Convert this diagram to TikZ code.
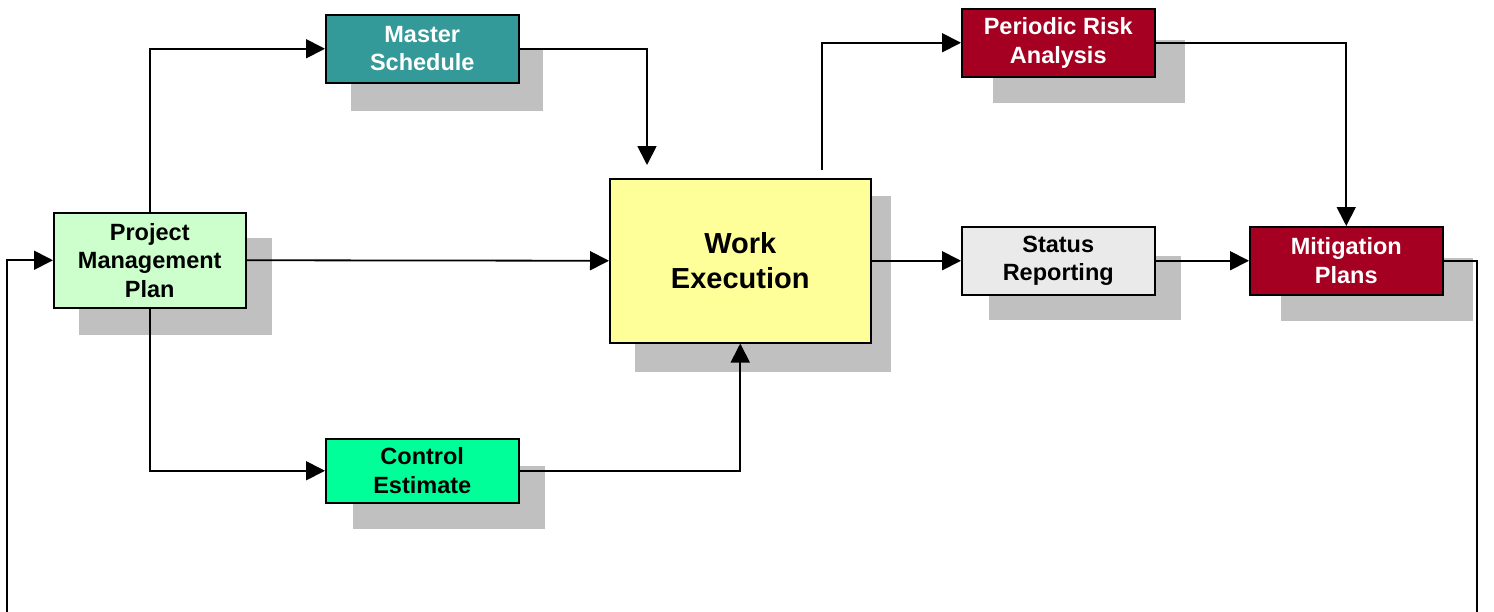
\documentclass[tikz,border=0pt]{standalone}
\usepackage{fontspec}
\setmainfont{Liberation Sans}
\usetikzlibrary{arrows.meta}
\definecolor{cteal}{HTML}{339999}
\definecolor{cred}{HTML}{A50021}
\definecolor{cpale}{HTML}{CCFFCC}
\definecolor{cyel}{HTML}{FFFF99}
\definecolor{cgray}{HTML}{EAEAEA}
\definecolor{cgreen}{HTML}{00FF99}
\definecolor{cshadow}{HTML}{C0C0C0}
\begin{document}
\begin{tikzpicture}[x=1pt,y=-1pt,
  box/.style={draw=black, line width=1.5pt, inner sep=0pt, align=center, anchor=north west,
    font=\bfseries\fontsize{23.5}{28.5}\selectfont},
  bigbox/.style={box, font=\bfseries\fontsize{29}{35}\selectfont},
  shadow/.style={fill=cshadow, draw=none},
  arr/.style={draw=black, line width=1.8pt, -{Triangle[length=19pt,width=19pt]}}
]
\useasboundingbox (0,0) rectangle (1494,611);
\clip (0,0) rectangle (1494,611);
% shadows
\fill[shadow] (351,48) rectangle (543,111);
\fill[shadow] (79,238) rectangle (272,335);
\fill[shadow] (635,196) rectangle (891,372);
\fill[shadow] (993,40) rectangle (1185,103);
\fill[shadow] (989,256) rectangle (1181,320);
\fill[shadow] (1281,258) rectangle (1473,321);
\fill[shadow] (353,466) rectangle (545,529);
% nodes
\node[box, fill=cteal, text=white, minimum width=193pt, minimum height=68pt] (ms) at (325,14) {Master\\Schedule};
\node[box, fill=cpale, minimum width=192pt, minimum height=95pt] (pmp) at (53,212) {Project\\Management\\Plan};
\node[bigbox, fill=cyel, minimum width=261pt, minimum height=164pt] (we) at (609,178) {Work\\Execution};
\node[box, fill=cred, text=white, minimum width=193pt, minimum height=68pt] (pra) at (961,8) {Periodic Risk\\Analysis};
\node[box, fill=cgray, minimum width=193pt, minimum height=68pt] (sr) at (961,226) {Status\\Reporting};
\node[box, fill=cred, text=white, minimum width=193pt, minimum height=68pt] (mp) at (1249,226) {Mitigation\\Plans};
\node[box, fill=cgreen, minimum width=193pt, minimum height=64pt] (ce) at (325,438) {Control\\Estimate};
% helper coordinates
\coordinate (msin) at (647,165);
\coordinate (weout) at (822,170);
\coordinate (loopR) at (1477,640);
\coordinate (loopL) at (7,640);
% connectors
\draw[arr] (pmp.north) |- (ms.west);
\draw[arr] (ms.east) -| (msin);
\draw[arr] (pmp.east) -- (we.west);
\draw[arr] (pmp.south) |- (ce.west);
\draw[arr] (ce.east) -| (we.south);
\draw[arr] (weout) |- (pra.west);
\draw[arr] (we.east) -- (sr.west);
\draw[arr] (pra.east) -| (mp.north);
\draw[arr] (sr.east) -- (mp.west);
\draw[arr] (mp.east) -| (loopR) -- (loopL) |- (pmp.west);
\end{tikzpicture}
\end{document}
